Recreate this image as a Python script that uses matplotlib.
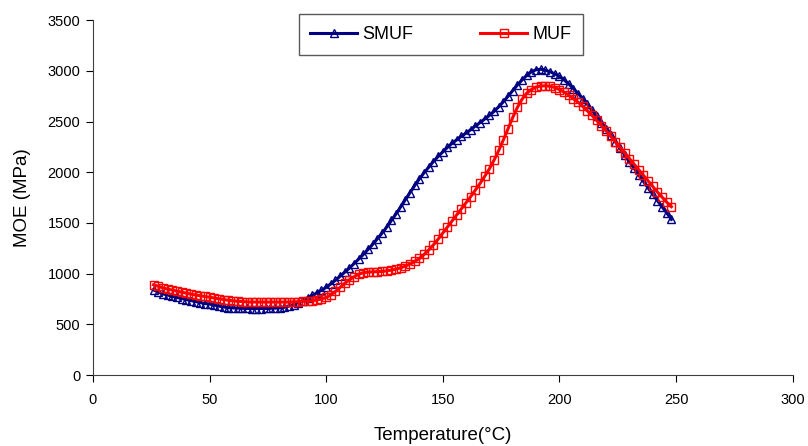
import numpy as np
import matplotlib
matplotlib.use("Agg")
import matplotlib.pyplot as plt

plt.rcParams['font.family'] = ['Liberation Sans', 'DejaVu Sans']

temperature = list(range(26, 250, 2))

smuf = [840, 820, 800, 790, 775, 765, 755, 745, 735, 725, 715, 705, 700, 690, 680, 672,
        665, 662, 660, 658, 657, 656, 656, 656, 657, 658, 660, 662, 668, 680, 695, 715,
        735, 760, 785, 810, 835, 865, 900, 935, 975, 1015, 1055, 1100, 1145, 1190, 1240,
        1290, 1345, 1400, 1460, 1525, 1590, 1660, 1730, 1800, 1870, 1935, 1995, 2050,
        2105, 2155, 2200, 2245, 2285, 2320, 2355, 2385, 2420, 2455, 2490, 2525, 2560,
        2600, 2645, 2695, 2750, 2805, 2860, 2910, 2955, 2990, 3010, 3015, 3005, 2990,
        2970, 2945, 2910, 2870, 2825, 2775, 2725, 2670, 2610, 2550, 2490, 2430, 2365,
        2300, 2235, 2170, 2105, 2040, 1975, 1910, 1845, 1785, 1720, 1660, 1600, 1535]

muf = [890, 875, 860, 848, 838, 828, 818, 808, 798, 790, 782, 775, 768, 760, 752, 745,
       738, 732, 728, 725, 722, 720, 720, 720, 720, 720, 720, 720, 720, 720, 722, 724,
       726, 728, 732, 740, 750, 765, 790, 825, 865, 905, 940, 970, 995, 1010, 1015, 1018,
       1020, 1022, 1028, 1035, 1045, 1058, 1075, 1095, 1120, 1150, 1190, 1235, 1285,
       1340, 1400, 1460, 1520, 1580, 1640, 1700, 1760, 1825, 1890, 1960, 2035, 2120,
       2215, 2320, 2430, 2540, 2640, 2720, 2780, 2815, 2840, 2850, 2852, 2848, 2835,
       2815, 2790, 2760, 2725, 2690, 2650, 2605, 2560, 2510, 2460, 2410, 2355, 2300,
       2245, 2190, 2135, 2080, 2025, 1970, 1915, 1860, 1805, 1755, 1705, 1660]

n = min(len(temperature), len(smuf), len(muf))

fig = plt.figure(figsize=(8.08, 4.46), dpi=100)
ax = fig.add_axes([0.115, 0.159, 0.866, 0.796])

ax.plot(temperature[:n], smuf[:n], color='#000080', lw=2.2, marker='^', ms=5.5,
        mfc='none', mec='#000080', mew=1.0, label='SMUF')
ax.plot(temperature[:n], muf[:n], color='#ff0000', lw=2.2, marker='s', ms=5.8,
        mfc='none', mec='#ff0000', mew=1.0, label='MUF')

ax.set_xlim(0, 300)
ax.set_ylim(0, 3500)
ax.set_xticks(range(0, 301, 50))
ax.set_yticks(range(0, 3501, 500))
ax.spines['top'].set_visible(False)
ax.spines['right'].set_visible(False)
ax.spines['left'].set_color('#404040')
ax.spines['bottom'].set_color('#404040')
ax.tick_params(direction='out', length=5, labelsize=10.5, colors='black')
ax.tick_params(axis='y', pad=4)
ax.tick_params(axis='x', pad=8)
ax.set_xlabel('Temperature(°C)', fontsize=13.5, labelpad=14)
ax.set_ylabel('MOE (MPa)', fontsize=13.5, labelpad=12)

leg = ax.legend(loc='center', bbox_to_anchor=(0.281, 0.904, 0.433, 0.11), ncol=2,
                mode='expand', fontsize=13, frameon=True, fancybox=False,
                edgecolor='#303030', handlelength=2.6, borderpad=0.65,
                columnspacing=2.0, handletextpad=0.3)
leg.get_frame().set_linewidth(1.0)

fig.savefig('out.png', dpi=100)
